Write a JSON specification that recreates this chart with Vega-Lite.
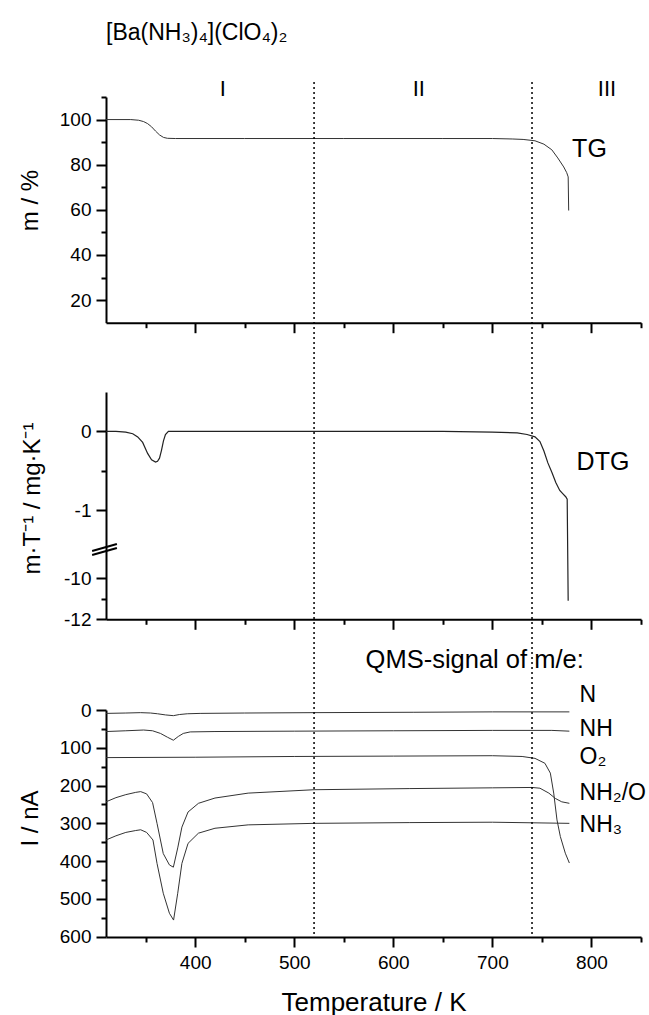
{
  "$schema": "https://vega.github.io/schema/vega-lite/v6.json",
  "width": 535,
  "height": 855,
  "autosize": {"type": "none"},
  "padding": {"left": 106, "top": 82, "right": 8, "bottom": 78},
  "background": "white",
  "title": {"text": "[Ba(NH₃)₄](ClO₄)₂", "anchor": "start", "frame": "group", "fontSize": 23, "fontWeight": "normal", "font": "Liberation Sans", "color": "black", "offset": 33},
  "config": {
    "font": "Liberation Sans",
    "view": {"stroke": null},
    "axis": {"domainColor": "black", "domainWidth": 2, "tickColor": "black", "tickWidth": 2, "labelColor": "black", "titleColor": "black", "labelFontSize": 19, "titleFontSize": 24, "titleFontWeight": "normal", "grid": false, "labelPadding": 5}
  },
  "datasets": {
    "tg": [
      {"T": 310, "m": 100}, {"T": 335, "m": 100}, {"T": 343, "m": 99.7}, {"T": 348, "m": 99.1}, {"T": 352, "m": 98.2}, {"T": 356, "m": 96.8}, {"T": 360, "m": 94.9}, {"T": 364, "m": 93.2}, {"T": 368, "m": 92.1}, {"T": 372, "m": 91.7}, {"T": 380, "m": 91.6}, {"T": 450, "m": 91.6}, {"T": 550, "m": 91.6}, {"T": 650, "m": 91.6}, {"T": 700, "m": 91.6}, {"T": 720, "m": 91.4}, {"T": 731, "m": 91.2}, {"T": 743, "m": 90.6}, {"T": 752, "m": 89.1}, {"T": 760, "m": 86.6}, {"T": 766, "m": 83}, {"T": 772, "m": 79}, {"T": 775, "m": 76.5}, {"T": 776.5, "m": 74.6}, {"T": 777, "m": 59.7}
    ],
    "tgLabels": [
      {"T": 798, "m": 86.9, "label": "TG", "size": "big"},
      {"T": 428, "m": 113.6, "label": "I", "size": "small"},
      {"T": 625.7, "m": 113.6, "label": "II", "size": "small"},
      {"T": 815.7, "m": 113.6, "label": "III", "size": "small"}
    ],
    "dtg": [
      {"T": 310, "v": 0}, {"T": 320, "v": 0}, {"T": 330, "v": -0.01}, {"T": 337, "v": -0.03}, {"T": 342, "v": -0.07}, {"T": 347, "v": -0.14}, {"T": 352, "v": -0.28}, {"T": 356, "v": -0.36}, {"T": 360, "v": -0.39}, {"T": 362, "v": -0.38}, {"T": 364, "v": -0.34}, {"T": 366, "v": -0.24}, {"T": 368, "v": -0.12}, {"T": 370, "v": -0.04}, {"T": 373, "v": 0}, {"T": 450, "v": 0}, {"T": 550, "v": 0}, {"T": 650, "v": 0}, {"T": 700, "v": -0.01}, {"T": 725, "v": -0.02}, {"T": 735, "v": -0.04}, {"T": 743, "v": -0.07}, {"T": 748, "v": -0.13}, {"T": 752, "v": -0.25}, {"T": 756, "v": -0.4}, {"T": 760, "v": -0.52}, {"T": 764, "v": -0.65}, {"T": 768, "v": -0.75}, {"T": 771, "v": -0.79}, {"T": 774, "v": -0.83}, {"T": 775.5, "v": -0.86}, {"T": 776.5, "v": -11.1}
    ],
    "dtgBreak": [
      {"T": 296, "T2": 321, "v": -8.67, "v2": -1.43},
      {"T": 296, "T2": 321, "v": -8.87, "v2": -1.48}
    ],
    "qms": [
      {"s": "N", "T": 310, "I": 9}, {"s": "N", "T": 330, "I": 8}, {"s": "N", "T": 345, "I": 7}, {"s": "N", "T": 355, "I": 8}, {"s": "N", "T": 362, "I": 10}, {"s": "N", "T": 370, "I": 13}, {"s": "N", "T": 378, "I": 15}, {"s": "N", "T": 384, "I": 12}, {"s": "N", "T": 392, "I": 10}, {"s": "N", "T": 405, "I": 9}, {"s": "N", "T": 450, "I": 8}, {"s": "N", "T": 520, "I": 7}, {"s": "N", "T": 620, "I": 6}, {"s": "N", "T": 700, "I": 5}, {"s": "N", "T": 777.7, "I": 5},
      {"s": "NH", "T": 310, "I": 57}, {"s": "NH", "T": 330, "I": 55}, {"s": "NH", "T": 348, "I": 53}, {"s": "NH", "T": 357, "I": 55}, {"s": "NH", "T": 365, "I": 62}, {"s": "NH", "T": 372, "I": 72}, {"s": "NH", "T": 378, "I": 80}, {"s": "NH", "T": 383, "I": 70}, {"s": "NH", "T": 388, "I": 62}, {"s": "NH", "T": 395, "I": 58}, {"s": "NH", "T": 420, "I": 57}, {"s": "NH", "T": 500, "I": 56}, {"s": "NH", "T": 600, "I": 55}, {"s": "NH", "T": 700, "I": 54}, {"s": "NH", "T": 760, "I": 54}, {"s": "NH", "T": 777.7, "I": 56},
      {"s": "O2", "T": 310, "I": 126}, {"s": "O2", "T": 400, "I": 125}, {"s": "O2", "T": 500, "I": 123}, {"s": "O2", "T": 600, "I": 122}, {"s": "O2", "T": 700, "I": 121}, {"s": "O2", "T": 730, "I": 123}, {"s": "O2", "T": 743, "I": 128}, {"s": "O2", "T": 753, "I": 141}, {"s": "O2", "T": 758.5, "I": 167}, {"s": "O2", "T": 761.9, "I": 220}, {"s": "O2", "T": 765.2, "I": 291}, {"s": "O2", "T": 768.6, "I": 335}, {"s": "O2", "T": 773.6, "I": 379}, {"s": "O2", "T": 777.7, "I": 405},
      {"s": "NH2/O", "T": 310, "I": 243}, {"s": "NH2/O", "T": 320, "I": 232}, {"s": "NH2/O", "T": 330, "I": 224}, {"s": "NH2/O", "T": 340, "I": 218}, {"s": "NH2/O", "T": 345, "I": 216}, {"s": "NH2/O", "T": 351, "I": 222}, {"s": "NH2/O", "T": 357, "I": 245}, {"s": "NH2/O", "T": 361.5, "I": 300}, {"s": "NH2/O", "T": 367.8, "I": 380}, {"s": "NH2/O", "T": 374, "I": 410}, {"s": "NH2/O", "T": 378, "I": 416}, {"s": "NH2/O", "T": 382.4, "I": 365}, {"s": "NH2/O", "T": 386.6, "I": 310}, {"s": "NH2/O", "T": 392.8, "I": 270}, {"s": "NH2/O", "T": 403.3, "I": 247}, {"s": "NH2/O", "T": 420, "I": 233}, {"s": "NH2/O", "T": 453.5, "I": 220}, {"s": "NH2/O", "T": 520, "I": 211}, {"s": "NH2/O", "T": 616, "I": 208}, {"s": "NH2/O", "T": 700, "I": 206}, {"s": "NH2/O", "T": 740, "I": 205}, {"s": "NH2/O", "T": 748, "I": 207}, {"s": "NH2/O", "T": 757, "I": 220}, {"s": "NH2/O", "T": 763.5, "I": 234}, {"s": "NH2/O", "T": 770, "I": 243}, {"s": "NH2/O", "T": 777.7, "I": 247},
      {"s": "NH3", "T": 310, "I": 344}, {"s": "NH3", "T": 320, "I": 333}, {"s": "NH3", "T": 330, "I": 324}, {"s": "NH3", "T": 340, "I": 319}, {"s": "NH3", "T": 345, "I": 317}, {"s": "NH3", "T": 351, "I": 324}, {"s": "NH3", "T": 357.4, "I": 344}, {"s": "NH3", "T": 361.5, "I": 406}, {"s": "NH3", "T": 367.8, "I": 485}, {"s": "NH3", "T": 374, "I": 538}, {"s": "NH3", "T": 378.2, "I": 556}, {"s": "NH3", "T": 382.4, "I": 485}, {"s": "NH3", "T": 386.6, "I": 406}, {"s": "NH3", "T": 392.8, "I": 353}, {"s": "NH3", "T": 403.3, "I": 326}, {"s": "NH3", "T": 420, "I": 313}, {"s": "NH3", "T": 453.5, "I": 304}, {"s": "NH3", "T": 520, "I": 300}, {"s": "NH3", "T": 616, "I": 298}, {"s": "NH3", "T": 700, "I": 297}, {"s": "NH3", "T": 777.7, "I": 300}
    ],
    "qmsLabels": [
      {"T": 788, "I": -40, "label": "N"},
      {"T": 788, "I": 50, "label": "NH"},
      {"T": 788, "I": 124, "label": "O₂"},
      {"T": 788, "I": 220, "label": "NH₂/O"},
      {"T": 788, "I": 304, "label": "NH₃"}
    ],
    "qmsTitle": [{"T": 572, "I": -132, "label": "QMS-signal of m/e:"}],
    "bounds": [{"T": 520}, {"T": 740}]
  },
  "layer": [
    {
      "layer": [
        {
          "data": {"name": "tg"},
          "mark": {"type": "line", "color": "#333", "strokeWidth": 1},
          "encoding": {
            "x": {"field": "T", "type": "quantitative", "scale": {"domain": [310, 850], "nice": false, "zero": false},
              "axis": {"orient": "bottom", "offset": -614.3, "labels": false, "title": null, "values": [350, 400, 450, 500, 550, 600, 650, 700, 750, 800, 850],
                "tickSize": {"condition": {"test": "datum.value % 100 === 0", "value": 10}, "value": 5}}},
            "y": {"field": "m", "type": "quantitative", "scale": {"domain": [10, 110], "range": [240.7, 15], "nice": false, "zero": false},
              "axis": {"orient": "left", "values": [20, 30, 40, 50, 60, 70, 80, 90, 100, 110],
                "labelExpr": "datum.value % 20 === 0 && datum.value <= 100 ? datum.label : ''",
                "tickSize": {"condition": {"test": "datum.value % 20 === 0 && datum.value <= 100", "value": 10}, "value": 5},
                "title": "m / %", "titleX": -64, "titleY": 118}}
          }
        },
        {
          "data": {"name": "tgLabels"},
          "mark": {"type": "text", "align": "center", "baseline": "middle", "color": "black"},
          "encoding": {
            "x": {"field": "T", "type": "quantitative", "scale": {"domain": [310, 850], "nice": false, "zero": false}},
            "y": {"field": "m", "type": "quantitative", "scale": {"domain": [10, 110], "range": [240.7, 15], "nice": false, "zero": false}},
            "text": {"field": "label"},
            "align": {"condition": {"test": "datum.size === 'big'", "value": "left"}, "value": "center"},
            "size": {"condition": {"test": "datum.size === 'big'", "value": 25}, "value": 22}
          }
        }
      ]
    },
    {
      "layer": [
        {
          "data": {"name": "dtg"},
          "mark": {"type": "line", "color": "#222", "strokeWidth": 1.2},
          "encoding": {
            "x": {"field": "T", "type": "quantitative", "scale": {"domain": [310, 850], "nice": false, "zero": false},
              "axis": {"orient": "bottom", "offset": -317.7, "labels": false, "title": null, "values": [350, 400, 450, 500, 550, 600, 650, 700, 750, 800, 850],
                "tickSize": {"condition": {"test": "datum.value % 100 === 0", "value": 10}, "value": 5}}},
            "y": {"field": "v", "type": "quantitative", "scale": {"domain": [-12, -8.6, -1.5, 0.5], "range": [537.3, 467.5, 467.5, 310], "nice": false, "zero": false},
              "axis": {"orient": "left", "values": [-12, -11, -10, -1, -0.5, 0],
                "labelExpr": "datum.value === -11 || datum.value === -0.5 ? '' : '' + datum.value",
                "tickSize": {"condition": {"test": "datum.value === -11 || datum.value === -0.5", "value": 5}, "value": 10},
                "title": "m·T⁻¹ / mg·K⁻¹", "titleX": -62, "titleY": 416}}
          }
        },
        {
          "data": {"name": "dtgBreak"},
          "mark": {"type": "rule", "color": "black", "strokeWidth": 2},
          "encoding": {
            "x": {"field": "T", "type": "quantitative", "scale": {"domain": [310, 850], "nice": false, "zero": false}},
            "x2": {"field": "T2"},
            "y": {"field": "v", "type": "quantitative", "scale": {"domain": [-12, -8.6, -1.5, 0.5], "range": [537.3, 467.5, 467.5, 310], "nice": false, "zero": false}},
            "y2": {"field": "v2"}
          }
        },
        {
          "data": {"values": [{"T": 785, "v": -0.39, "label": "DTG"}]},
          "mark": {"type": "text", "align": "left", "baseline": "middle", "fontSize": 25, "color": "black"},
          "encoding": {
            "x": {"field": "T", "type": "quantitative", "scale": {"domain": [310, 850], "nice": false, "zero": false}},
            "y": {"field": "v", "type": "quantitative", "scale": {"domain": [-12, -8.6, -1.5, 0.5], "range": [537.3, 467.5, 467.5, 310], "nice": false, "zero": false}},
            "text": {"field": "label"}
          }
        }
      ]
    },
    {
      "layer": [
        {
          "data": {"name": "qms"},
          "mark": {"type": "line", "color": "#333", "strokeWidth": 1},
          "encoding": {
            "x": {"field": "T", "type": "quantitative", "scale": {"domain": [310, 850], "nice": false, "zero": false},
              "axis": {"orient": "bottom", "values": [350, 400, 450, 500, 550, 600, 650, 700, 750, 800, 850],
                "labelExpr": "datum.value % 100 === 0 && datum.value < 850 ? datum.label : ''",
                "tickSize": {"condition": {"test": "datum.value % 100 === 0", "value": 10}, "value": 5},
                "labelPadding": 6, "title": "Temperature / K", "titleFontSize": 26, "titlePadding": 17}},
            "y": {"field": "I", "type": "quantitative", "scale": {"domain": [0, 600], "range": [628, 854.7], "nice": false, "zero": false},
              "axis": {"orient": "left", "values": [0, 50, 100, 150, 200, 250, 300, 350, 400, 450, 500, 550, 600],
                "labelExpr": "datum.value % 100 === 0 ? datum.label : ''",
                "tickSize": {"condition": {"test": "datum.value % 100 === 0", "value": 10}, "value": 5},
                "title": "I / nA", "titleX": -64, "titleY": 736}},
            "detail": {"field": "s"}
          }
        },
        {
          "data": {"name": "qmsLabels"},
          "mark": {"type": "text", "align": "left", "baseline": "middle", "fontSize": 23, "color": "black"},
          "encoding": {
            "x": {"field": "T", "type": "quantitative", "scale": {"domain": [310, 850], "nice": false, "zero": false}},
            "y": {"field": "I", "type": "quantitative", "scale": {"domain": [0, 600], "range": [628, 854.7], "nice": false, "zero": false}},
            "text": {"field": "label"}
          }
        },
        {
          "data": {"name": "qmsTitle"},
          "mark": {"type": "text", "align": "left", "baseline": "middle", "fontSize": 25.5, "color": "black"},
          "encoding": {
            "x": {"field": "T", "type": "quantitative", "scale": {"domain": [310, 850], "nice": false, "zero": false}},
            "y": {"field": "I", "type": "quantitative", "scale": {"domain": [0, 600], "range": [628, 854.7], "nice": false, "zero": false}},
            "text": {"field": "label"}
          }
        },
        {
          "data": {"name": "bounds"},
          "mark": {"type": "rule", "color": "black", "strokeWidth": 1.5, "strokeDash": [2, 3]},
          "encoding": {
            "x": {"field": "T", "type": "quantitative", "scale": {"domain": [310, 850], "nice": false, "zero": false}}
          }
        }
      ]
    }
  ],
  "resolve": {"scale": {"x": "independent", "y": "independent"}, "axis": {"x": "independent", "y": "independent"}}
}
